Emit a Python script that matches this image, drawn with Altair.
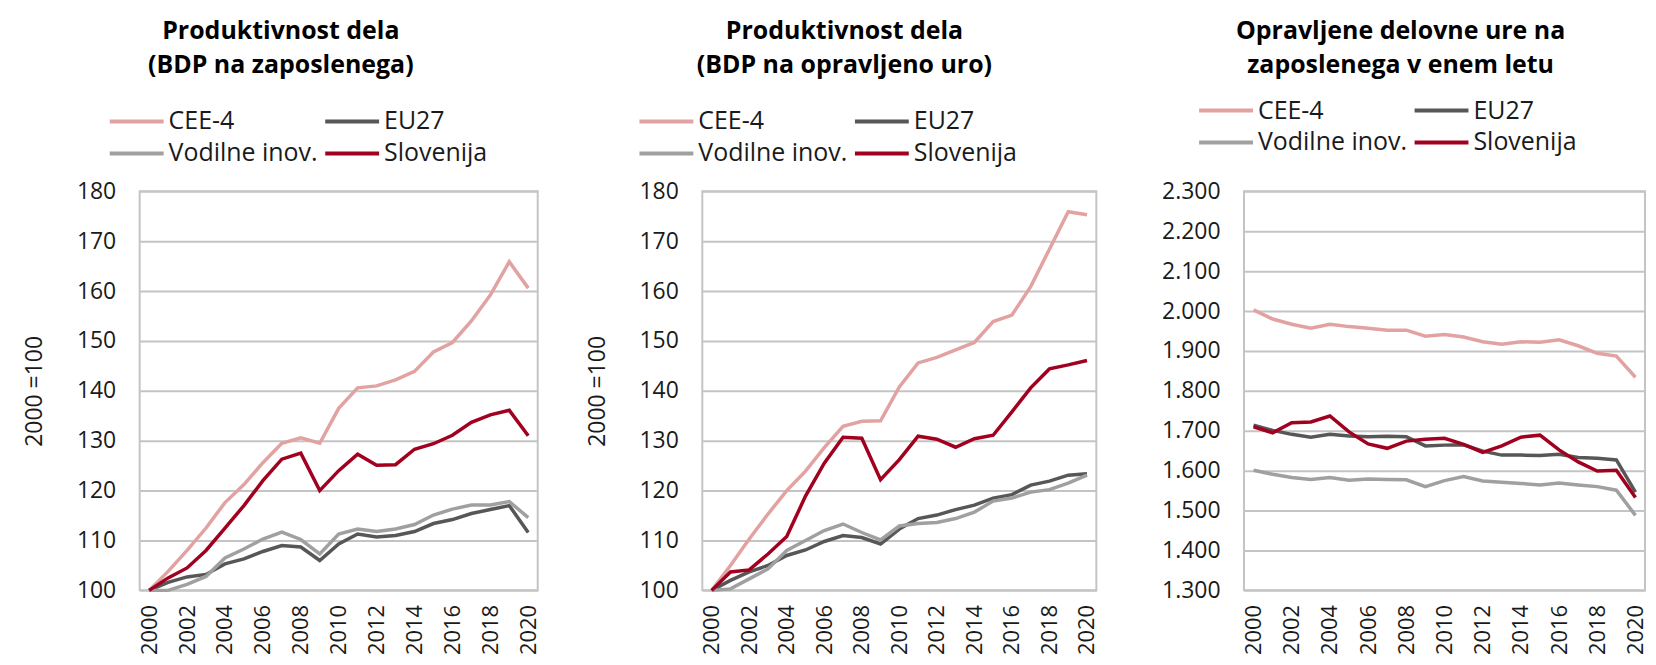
import altair as alt
import pandas as pd

years = list(range(2000, 2021))
series = ["CEE-4", "EU27", "Vodilne inov.", "Slovenija"]
colors = ["#E2A2A2", "#575757", "#A0A0A0", "#A2001F"]

# Panel 1: Produktivnost dela (BDP na zaposlenega), 2000 = 100
p1_cee4 = [100, 103.8, 108, 112.5, 117.6, 121.2, 125.6, 129.5, 130.6, 129.5, 136.5,
           140.6, 141.0, 142.2, 143.9, 147.8, 149.7, 154.0, 159.2, 165.9, 160.6]
p1_eu27 = [100, 101.6, 102.7, 103.2, 105.3, 106.3, 107.8, 109.0, 108.7, 106.0, 109.3,
           111.3, 110.7, 111.0, 111.8, 113.4, 114.2, 115.4, 116.2, 117.0, 111.6]
p1_vodilne = [100, 100.0, 101.2, 102.8, 106.5, 108.3, 110.3, 111.7, 110.2, 107.3, 111.3,
              112.3, 111.8, 112.3, 113.2, 115.1, 116.3, 117.1, 117.1, 117.8, 114.6]
p1_slo = [100, 102.5, 104.5, 108.0, 112.5, 117.0, 122.0, 126.3, 127.5, 120.0, 124.0,
          127.3, 125.1, 125.2, 128.3, 129.4, 131.1, 133.7, 135.2, 136.1, 131.0]

# Panel 2: Produktivnost dela (BDP na opravljeno uro), 2000 = 100
p2_cee4 = [100, 105.0, 110.3, 115.3, 120.0, 123.9, 128.6, 132.9, 133.9, 134.0, 140.8,
           145.6, 146.7, 148.2, 149.7, 153.9, 155.2, 160.9, 168.4, 175.9, 175.3]
p2_eu27 = [100, 102.0, 103.7, 105.0, 107.0, 108.1, 109.8, 111.0, 110.6, 109.3, 112.3,
           114.4, 115.1, 116.2, 117.1, 118.5, 119.2, 121.1, 121.9, 123.1, 123.4]
p2_vodilne = [100, 100.3, 102.3, 104.3, 108.0, 110.0, 112.0, 113.3, 111.6, 110.1, 112.9,
              113.4, 113.6, 114.4, 115.7, 117.9, 118.5, 119.7, 120.2, 121.5, 123.1]
p2_slo = [100, 103.7, 104.1, 107.3, 110.8, 118.9, 125.5, 130.7, 130.5, 122.2, 126.2,
          130.9, 130.3, 128.7, 130.4, 131.1, 135.8, 140.6, 144.4, 145.2, 146.1]

# Panel 3: Opravljene delovne ure na zaposlenega v enem letu
p3_cee4 = [2003, 1980, 1967, 1957, 1967, 1961, 1957, 1952, 1952, 1937, 1941,
           1935, 1923, 1917, 1923, 1922, 1928, 1913, 1894, 1887, 1834]
p3_eu27 = [1714, 1701, 1691, 1684, 1691, 1687, 1685, 1686, 1685, 1662, 1664,
           1665, 1649, 1639, 1639, 1638, 1641, 1633, 1631, 1627, 1546]
p3_vodilne = [1601, 1591, 1583, 1578, 1583, 1576, 1579, 1578, 1577, 1560, 1575,
              1585, 1574, 1571, 1568, 1564, 1569, 1564, 1560, 1551, 1488]
p3_slo = [1710, 1695, 1720, 1722, 1737, 1697, 1667, 1656, 1674, 1679, 1681,
          1666, 1646, 1662, 1684, 1689, 1652, 1622, 1599, 1601, 1533]

titles = [
    ["Produktivnost dela", "(BDP na zaposlenega)"],
    ["Produktivnost dela", "(BDP na opravljeno uro)"],
    ["Opravljene delovne ure na", "zaposlenega v enem letu"],
]

FONT = "Open Sans"
TXT = "#1a1a1a"
GRID = "#c4c4c4"


def make_df(vals):
    rows = []
    for name, v in zip(series, vals):
        for y, val in zip(years, v):
            rows.append({"year": y, "series": name, "value": val})
    return pd.DataFrame(rows)


def panel(vals, width, ydom, ystep, ytitle, lx, ly, title, tdx, toffset, dotsep=False):
    df = make_df(vals)
    yaxis_kw = dict(
        values=list(range(ydom[0], ydom[1] + 1, ystep)),
        grid=True, gridColor=GRID, gridWidth=2,
        ticks=False, domain=False, labelPadding=24,
        labelFontSize=23, labelFont=FONT, labelColor=TXT,
    )
    if dotsep:
        yaxis_kw["labelExpr"] = "replace(format(datum.value, ',d'), ',', '.')"
    if ytitle:
        yaxis_kw.update(title=ytitle, titleFontSize=23, titleFont=FONT,
                        titleFontWeight="normal", titleColor=TXT, titlePadding=30)
    else:
        yaxis_kw["title"] = None
    chart = alt.Chart(df).mark_line(strokeWidth=3.5).encode(
        x=alt.X("year:Q",
                scale=alt.Scale(domain=[1999.5, 2020.5], nice=False, zero=False),
                axis=alt.Axis(values=list(range(2000, 2021, 2)), format="d",
                              labelAngle=-90, grid=False, ticks=False, domain=False,
                              labelPadding=14, labelFontSize=22, labelFont=FONT,
                              labelColor=TXT, labelOverlap=False, labelFlush=False,
                              title=None)),
        y=alt.Y("value:Q",
                scale=alt.Scale(domain=list(ydom), nice=False, zero=False),
                axis=alt.Axis(**yaxis_kw)),
        color=alt.Color("series:N",
                        scale=alt.Scale(domain=series, range=colors),
                        legend=alt.Legend(orient="none", legendX=lx, legendY=ly,
                                          direction="horizontal",
                                          columns=2, symbolType="stroke",
                                          symbolSize=2916, symbolStrokeWidth=4,
                                          clipHeight=26,
                                          labelFontSize=25, labelFont=FONT,
                                          labelColor=TXT, labelOffset=3,
                                          columnPadding=5, rowPadding=6,
                                          labelLimit=0, title=None)),
    ).properties(
        width=width, height=400,
        title=alt.TitleParams(text=title, font=FONT, fontSize=25, fontWeight="bold",
                              color="black", anchor="middle", frame="group",
                              dx=tdx, offset=toffset, lineHeight=34),
    )
    return chart


c1 = panel([p1_cee4, p1_eu27, p1_vodilne, p1_slo], 399, (100, 180), 10,
           "2000 =100", -32, -83, titles[0], -58, 31)
c2 = panel([p2_cee4, p2_eu27, p2_vodilne, p2_slo], 395, (100, 180), 10,
           "2000 =100", -65, -83, titles[1], -55, 31)
c3 = panel([p3_cee4, p3_eu27, p3_vodilne, p3_slo], 402, (1300, 2300), 100,
           None, -47, -94, titles[2], -44, 20, dotsep=True)

inner = alt.hconcat(c1, c2, spacing=165, bounds="flush").resolve_scale(color="independent")
chart = alt.hconcat(inner, c3, spacing=61).resolve_scale(
    color="independent"
).properties(
    padding={"left": 14, "top": 9, "right": 0, "bottom": 0},
    background="white",
).configure_view(
    stroke=GRID, strokeWidth=2
)

chart.save("out.html", embed_options={"renderer": "svg", "actions": False})
